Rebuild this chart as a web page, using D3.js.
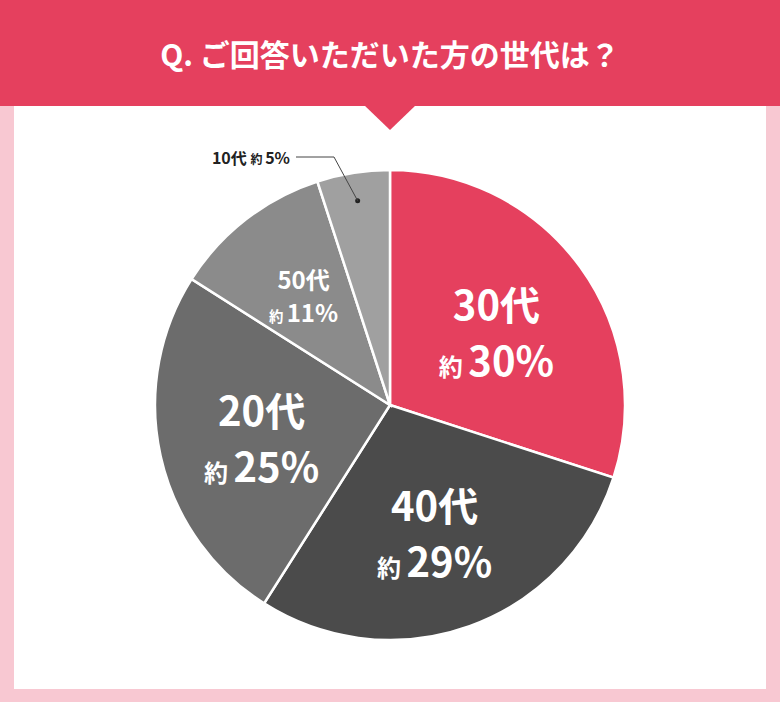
<!DOCTYPE html>
<html><head><meta charset="utf-8">
<script src="https://cdn.jsdelivr.net/npm/d3@7"></script>
<style>body{margin:0;background:#fff}text{font-family:"Noto Sans CJK JP",sans-serif;font-weight:700}</style>
</head><body>
<script>
    var categories = ["30代", "40代", "20代", "50代", "10代"];
    var values = [30, 29, 25, 11, 5];
    var colors = ["#e5405e", "#4b4b4b", "#6c6c6c", "#8b8b8b", "#a0a0a0"];
    var title = "Q. ご回答いただいた方の世代は？";

    var width = 780, height = 702;
    var svg = d3.select("body").append("svg").attr("width", width).attr("height", height);

    // frame and header
    svg.append("rect").attr("width", width).attr("height", height).attr("fill", "#f8c8d2");
    svg.append("rect").attr("x", 14).attr("y", 100).attr("width", 752).attr("height", 589).attr("fill", "#fff");
    svg.append("rect").attr("width", width).attr("height", 106).attr("fill", "#e5405e");
    svg.append("path").attr("d", "M364,105 L416,105 L390,130 Z").attr("fill", "#e5405e");
    svg.append("text").attr("x", 390).attr("y", 66).attr("text-anchor", "middle")
        .attr("fill", "#fff").attr("font-size", 30).text(title);

    var cx = 390, cy = 405, r = 235;
    var pie = d3.pie().sort(null).value(function(d){ return d; });
    var arc = d3.arc().innerRadius(0).outerRadius(r);
    var arcs = pie(values);
    var g = svg.append("g").attr("transform", "translate(" + cx + "," + cy + ")");
    g.selectAll("path").data(arcs).enter().append("path")
        .attr("d", arc)
        .attr("fill", function(d, i){ return colors[i]; })
        .attr("stroke", "#fff").attr("stroke-width", 2.5);

    // label positions (radius fraction, font size)
    var labelR = [0.56, 0.56, 0.56, 0.6];
    var sizes = [40, 40, 40, 24];
    arcs.slice(0, 4).forEach(function(d, i){
        var a = (d.startAngle + d.endAngle) / 2;
        var x = Math.sin(a) * r * labelR[i], y = -Math.cos(a) * r * labelR[i];
        var fs = sizes[i];
        var t = g.append("text").attr("text-anchor", "middle").attr("fill", "#fff")
            .attr("transform", "translate(" + x + "," + y + ")");
        t.append("tspan").attr("x", 0).attr("y", -fs * 0.2).attr("font-size", fs).text(categories[i]);
        var t2 = t.append("tspan").attr("x", 0).attr("y", fs * 1.2);
        t2.append("tspan").attr("font-size", fs * 0.6).text("約 ");
        t2.append("tspan").attr("font-size", fs).text(values[i] + "%");
    });

    // small slice callout
    var s = arcs[4], am = (s.startAngle + s.endAngle) / 2;
    var px = cx + Math.sin(am) * r * 0.88, py = cy - Math.cos(am) * r * 0.88;
    svg.append("circle").attr("cx", px).attr("cy", py).attr("r", 2.5).attr("fill", "#222");
    svg.append("path").attr("d", "M296,157 L334,157 L" + px + "," + py)
        .attr("fill", "none").attr("stroke", "#444").attr("stroke-width", 1);
    var c = svg.append("text").attr("x", 290).attr("y", 164).attr("text-anchor", "end").attr("fill", "#222");
    c.append("tspan").attr("font-size", 16).text(categories[4] + " ");
    c.append("tspan").attr("font-size", 12).text("約 ");
    c.append("tspan").attr("font-size", 16).text(values[4] + "%");
</script>
</body></html>
